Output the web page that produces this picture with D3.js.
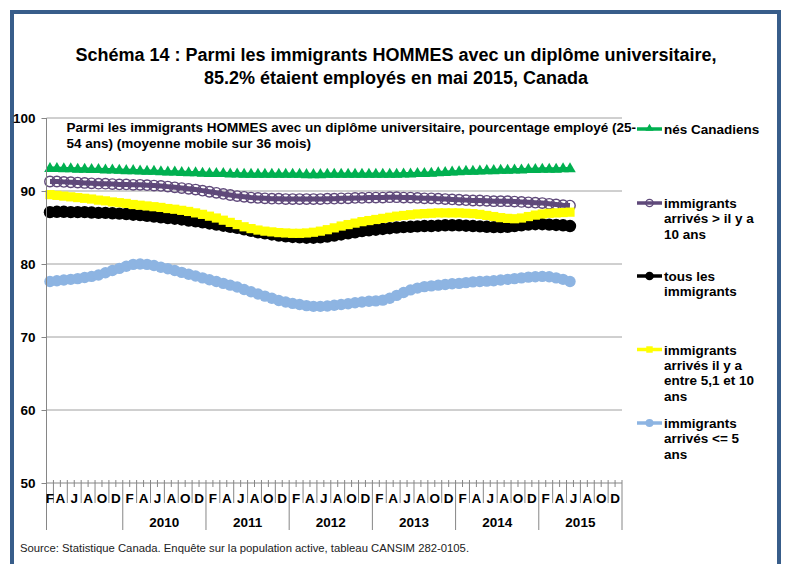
<!DOCTYPE html>
<html>
<head>
<meta charset="utf-8">
<script src="https://cdnjs.cloudflare.com/ajax/libs/d3/7.8.5/d3.min.js"></script>
<style>
body { margin: 0; background: #fff; }
svg text { font-family: Arial, "Liberation Sans", sans-serif; }
</style>
</head>
<body>
<div id="chart"></div>
<script>
// tick labels
var monthLabels = ["F", "A", "J", "A", "O", "D"];
var yearLabels = ["2010", "2011", "2012", "2013", "2014", "2015"];
var yTicks = [50, 60, 70, 80, 90, 100];

// monthly values, Feb 2009 -> May 2015 (36 month moving average)
var nesCanadiens = [
    93.0, 93.0, 92.95, 92.95, 92.9, 92.9, 92.85, 92.85, 92.8, 92.8, 92.75,
    92.7, 92.7, 92.65, 92.6, 92.6, 92.55, 92.5, 92.5, 92.45, 92.4, 92.4, 92.35,
    92.3, 92.3, 92.3, 92.25, 92.25, 92.2, 92.2, 92.2, 92.2, 92.2, 92.2, 92.2,
    92.2, 92.2, 92.15, 92.15, 92.15, 92.2, 92.2, 92.2, 92.2, 92.2, 92.2, 92.2,
    92.2, 92.2, 92.2, 92.2, 92.25, 92.25, 92.3, 92.3, 92.35, 92.4, 92.45, 92.5,
    92.55, 92.6, 92.6, 92.65, 92.7, 92.7, 92.75, 92.75, 92.8, 92.8, 92.85, 92.85,
    92.9, 92.9, 92.9, 92.95, 92.95
];
var plusDe10Ans = [
    91.3, 91.3, 91.25, 91.2, 91.15, 91.1, 91.05, 91.0, 91.0, 90.95, 90.9,
    90.9, 90.85, 90.85, 90.8, 90.75, 90.7, 90.6, 90.5, 90.4, 90.3, 90.2, 90.05,
    89.9, 89.75, 89.6, 89.45, 89.3, 89.2, 89.1, 89.05, 89.0, 88.95, 88.95, 88.9,
    88.9, 88.9, 88.9, 88.9, 88.9, 88.95, 88.95, 89.0, 89.0, 89.05, 89.05, 89.1,
    89.1, 89.1, 89.15, 89.15, 89.1, 89.1, 89.05, 89.0, 89.0, 88.95, 88.9, 88.85,
    88.8, 88.75, 88.7, 88.7, 88.65, 88.6, 88.6, 88.6, 88.55, 88.5, 88.45, 88.4,
    88.35, 88.25, 88.15, 88.05, 88.0
];
var tousImmigrants = [
    87.1, 87.15, 87.15, 87.1, 87.1, 87.1, 87.05, 87.0, 87.0, 86.95, 86.9,
    86.85, 86.75, 86.7, 86.6, 86.5, 86.4, 86.3, 86.2, 86.1, 85.95, 85.85, 85.7,
    85.55, 85.4, 85.25, 85.1, 84.95, 84.75, 84.55, 84.35, 84.2, 84.05, 83.9, 83.8,
    83.7, 83.65, 83.6, 83.6, 83.65, 83.75, 83.9, 84.05, 84.2, 84.35, 84.5, 84.6,
    84.7, 84.8, 84.9, 85.0, 85.05, 85.1, 85.15, 85.2, 85.2, 85.25, 85.3, 85.3,
    85.3, 85.25, 85.2, 85.15, 85.1, 85.05, 85.05, 85.1, 85.2, 85.3, 85.4, 85.45,
    85.45, 85.4, 85.35, 85.3, 85.2
];
var entre5et10Ans = [
    89.5, 89.4, 89.3, 89.2, 89.1, 89.0, 88.9, 88.75, 88.65, 88.5, 88.4,
    88.3, 88.15, 88.05, 87.95, 87.85, 87.75, 87.6, 87.5, 87.35, 87.2, 87.0, 86.8,
    86.55, 86.3, 86.0, 85.7, 85.4, 85.1, 84.85, 84.65, 84.5, 84.4, 84.3, 84.25,
    84.2, 84.2, 84.25, 84.35, 84.5, 84.7, 84.95, 85.2, 85.4, 85.6, 85.8, 85.95,
    86.1, 86.25, 86.4, 86.55, 86.65, 86.75, 86.85, 86.9, 86.95, 87.0, 87.0, 87.0,
    87.0, 86.95, 86.9, 86.8, 86.65, 86.5, 86.35, 86.25, 86.2, 86.3, 86.5, 86.7,
    86.85, 86.95, 87.0, 87.05, 87.1
];
var moinsDe5Ans = [
    77.6, 77.7, 77.8, 77.9, 78.0, 78.15, 78.3, 78.5, 78.8, 79.1, 79.4,
    79.7, 79.95, 80.0, 79.95, 79.8, 79.55, 79.35, 79.1, 78.85, 78.6, 78.35, 78.1,
    77.85, 77.6, 77.35, 77.1, 76.85, 76.5, 76.2, 75.9, 75.6, 75.3, 75.0, 74.8,
    74.6, 74.45, 74.3, 74.2, 74.2, 74.25, 74.35, 74.45, 74.55, 74.7, 74.8, 74.9,
    74.95, 75.05, 75.3, 75.7, 76.1, 76.45, 76.7, 76.9, 77.0, 77.1, 77.2, 77.3,
    77.35, 77.45, 77.55, 77.6, 77.65, 77.7, 77.8, 77.9, 78.0, 78.1, 78.2, 78.25,
    78.3, 78.25, 78.1, 77.9, 77.6
];

// months on the axis: Feb 2009 .. Dec 2015
var categories = [];
for (var yr = 2009; yr <= 2015; yr++) {
    for (var m = 1; m <= 12; m++) {
        if (yr == 2009 && m == 1) continue;
        categories.push(yr + "-" + m);
    }
}

var series = [
    { name: ["nés Canadiens"], values: nesCanadiens, color: "#00B050", marker: "triangle", ly: 129 },
    { name: ["immigrants", "arrivés > il y a", "10 ans"], values: plusDe10Ans, color: "#5F497A", marker: "hollow", ly: 203 },
    { name: ["tous les", "immigrants"], values: tousImmigrants, color: "#000000", marker: "dot", ly: 276 },
    { name: ["immigrants", "arrivés il y a", "entre 5,1 et 10", "ans"], values: entre5et10Ans, color: "#FFFF00", marker: "square", ly: 349.5 },
    { name: ["immigrants", "arrivés <= 5", "ans"], values: moinsDe5Ans, color: "#8DB4E2", marker: "circle", ly: 423 }
];

var width = 785, height = 564;
var x0 = 46.5, x1 = 622, yTop = 118, yBot = 483;

var svg = d3.select('#chart').append('svg')
    .attr('width', width)
    .attr('height', height);

svg.append('rect')
    .attr('x', 12).attr('y', 12)
    .attr('width', 767).attr('height', 600)
    .style('fill', 'none')
    .style('stroke', '#385D8A')
    .style('stroke-width', 4);

var x = d3.scaleBand().domain(categories).range([x0, x1]).padding(0);
var bw = x.bandwidth();
var y = d3.scaleLinear().domain([50, 100]).range([yBot, yTop]);

function cx(i) { return x(categories[i]) + bw / 2; }
function edge(k) { return k < categories.length ? x(categories[k]) : x1; }

// title
var title = svg.append('text')
    .attr('text-anchor', 'middle')
    .style('font-size', '18px')
    .style('font-weight', 'bold')
    .style('fill', '#000');
title.append('tspan').attr('x', 396).attr('y', 61)
    .text('Schéma 14 : Parmi les immigrants HOMMES avec un diplôme universitaire,');
title.append('tspan').attr('x', 396).attr('y', 84)
    .text('85.2% étaient employés en mai 2015, Canada');

// gridlines
svg.append('g').selectAll('line')
    .data(yTicks.filter(function(d) { return d > 50; }))
    .enter().append('line')
    .attr('x1', x0).attr('x2', x1)
    .attr('y1', function(d) { return y(d); })
    .attr('y2', function(d) { return y(d); })
    .style('stroke', '#A0A0A0')
    .style('stroke-width', 1);

// subtitle inside the plot
var sub = svg.append('text')
    .style('font-size', '13.5px')
    .style('font-weight', 'bold')
    .style('fill', '#000');
sub.append('tspan').attr('x', 66.5).attr('y', 132)
    .text('Parmi les immigrants HOMMES avec un diplôme universitaire, pourcentage employé  (25-');
sub.append('tspan').attr('x', 66.5).attr('y', 148)
    .text('54 ans) (moyenne mobile sur 36 mois)');

function drawMarker(g, type, color, px, py, k) {
    if (type == "triangle") {
        g.append('path')
            .attr('d', d3.symbol().type(d3.symbolTriangle).size(58 * k * k)())
            .attr('transform', 'translate(' + px + ',' + (py - 0.5) + ')')
            .style('fill', color);
    } else if (type == "square") {
        g.append('rect')
            .attr('x', px - 4.6 * k).attr('y', py - 4.6 * k)
            .attr('width', 9.2 * k).attr('height', 9.2 * k)
            .style('fill', color);
    } else if (type == "hollow") {
        g.append('circle')
            .attr('cx', px).attr('cy', py).attr('r', 5.2 * k)
            .style('fill', 'none')
            .style('stroke', color)
            .style('stroke-width', 1.4);
    } else if (type == "dot") {
        g.append('circle')
            .attr('cx', px).attr('cy', py).attr('r', 6.2 * k)
            .style('fill', color);
    } else {
        g.append('circle')
            .attr('cx', px).attr('cy', py).attr('r', 5.7 * k)
            .style('fill', color);
    }
}

var line = d3.line()
    .x(function(d, i) { return cx(i); })
    .y(function(d) { return y(d); });

series.forEach(function(s) {
    var g = svg.append('g');
    g.append('path')
        .datum(s.values)
        .attr('d', line)
        .style('fill', 'none')
        .style('stroke', s.color)
        .style('stroke-width', s.marker == "hollow" ? 5 : (s.marker == "triangle" ? 5 : 4));
    s.values.forEach(function(v, i) {
        drawMarker(g, s.marker, s.color, cx(i), y(v), 1);
    });
});

// y axis
var yAxis = svg.append('g')
    .attr('transform', 'translate(' + x0 + ',0)')
    .call(d3.axisLeft(y).tickValues(yTicks).tickSize(5).tickPadding(6));
yAxis.select('.domain').remove();
yAxis.selectAll('line').style('stroke', '#868686');
yAxis.selectAll('text')
    .style('font-size', '13.5px')
    .style('font-weight', 'bold')
    .style('font-family', 'Arial, "Liberation Sans", sans-serif')
    .style('fill', '#000');

var axisColor = '#868686';
var ax = svg.append('g');
ax.append('line')
    .attr('x1', x0).attr('x2', x0).attr('y1', yTop).attr('y2', 530)
    .style('stroke', axisColor);
ax.append('line')
    .attr('x1', x0).attr('x2', x1).attr('y1', yBot).attr('y2', yBot)
    .style('stroke', axisColor);

// category boundaries
var bounds = d3.range(1, categories.length + 1);
ax.selectAll('.minor').data(bounds).enter().append('line')
    .attr('x1', edge).attr('x2', edge)
    .attr('y1', yBot - 3)
    .attr('y2', function(k) {
        var m = categories[k - 1].split('-')[1];
        if (m == "12") return 530;
        return k % 2 == 1 ? 503 : yBot + 4;
    })
    .style('stroke', axisColor);

// month letters
var labelIdx = d3.range(0, categories.length, 2);
ax.selectAll('.month').data(labelIdx).enter().append('text')
    .attr('x', function(i) { return i == 0 ? (edge(0) + edge(1)) / 2 : edge(i); })
    .attr('y', 503)
    .attr('text-anchor', 'middle')
    .style('font-size', '13.5px')
    .style('font-weight', 'bold')
    .text(function(i) { return monthLabels[(i / 2) % 6]; });

// years
ax.selectAll('.year').data(yearLabels).enter().append('text')
    .attr('x', function(d) {
        var a = categories.indexOf(d + "-1"), b = categories.indexOf(d + "-12");
        return (edge(a) + edge(b + 1)) / 2;
    })
    .attr('y', 526.5)
    .attr('text-anchor', 'middle')
    .style('font-size', '13.5px')
    .style('font-weight', 'bold')
    .text(function(d) { return d; });

// legend
var lg = svg.append('g');
series.forEach(function(s) {
    lg.append('line')
        .attr('x1', 637).attr('x2', 662)
        .attr('y1', s.ly).attr('y2', s.ly)
        .style('stroke', s.color)
        .style('stroke-width', 3.5);
    drawMarker(lg, s.marker, s.color, 649.5, s.ly, 0.7);
    var t = lg.append('text')
        .style('font-size', '13.5px')
        .style('font-weight', 'bold')
        .style('fill', '#000');
    s.name.forEach(function(n, j) {
        t.append('tspan').attr('x', 664).attr('y', s.ly + 5 + j * 15.4).text(n);
    });
});

// source
svg.append('text')
    .attr('x', 20).attr('y', 552)
    .style('font-size', '11.3px')
    .style('fill', '#222')
    .text('Source: Statistique Canada. Enquête sur la population active, tableau CANSIM  282-0105.');
</script>
</body>
</html>
